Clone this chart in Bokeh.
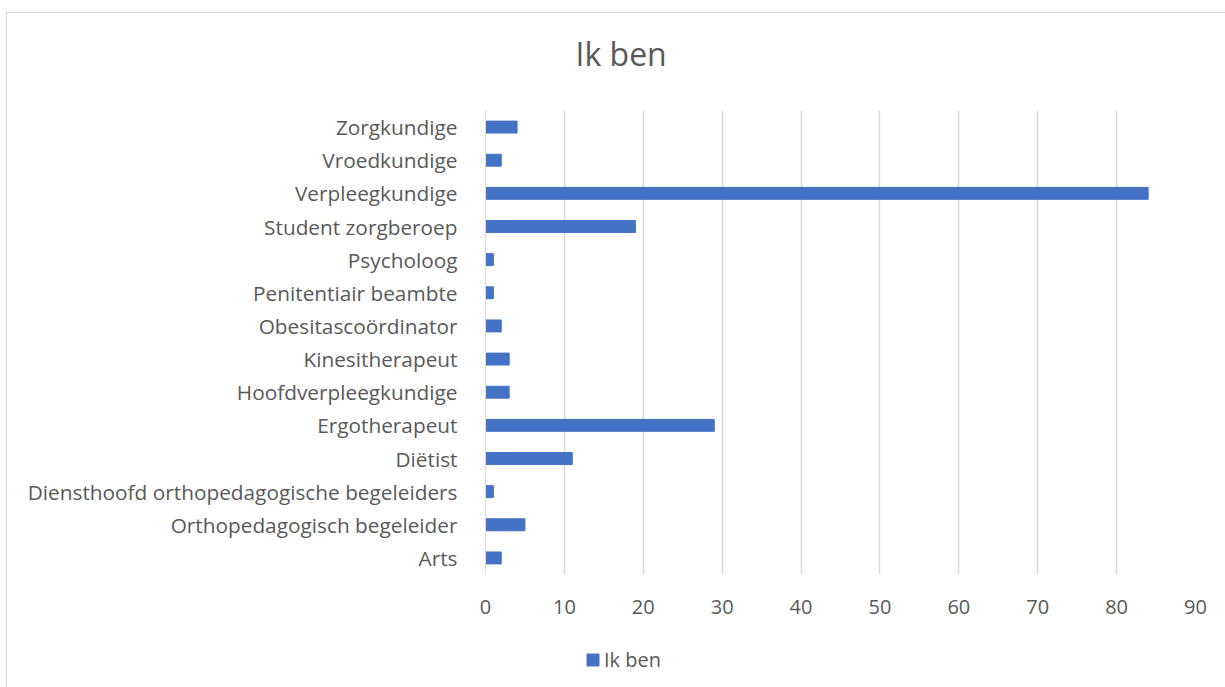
from bokeh.plotting import figure
from bokeh.layouts import column
from bokeh.models import ColumnDataSource, Legend, LegendItem, FixedTicker, Title
from bokeh.embed import file_html
from bokeh.resources import INLINE

categories = ["Arts", "Orthopedagogisch begeleider", "Diensthoofd orthopedagogische begeleiders",
              "Diëtist", "Ergotherapeut", "Hoofdverpleegkundige", "Kinesitherapeut",
              "Obesitascoördinator", "Penitentiair beambte", "Psycholoog",
              "Student zorgberoep", "Verpleegkundige", "Vroedkundige", "Zorgkundige"]
values = [2, 5, 1, 11, 29, 3, 3, 2, 1, 1, 19, 84, 2, 4]
x_ticks = [0, 10, 20, 30, 40, 50, 60, 70, 80, 90]
series_name = "Ik ben"
chart_title = "Ik ben"

FONT = "Open Sans"
GREY = "#595959"
BLUE = "#4472C4"

src = ColumnDataSource(dict(cat=categories, val=values))

p = figure(y_range=categories, x_range=(0, 90), width=1219, height=630,
           output_backend="svg", toolbar_location=None,
           min_border_left=478, min_border_right=31, min_border_top=97, min_border_bottom=69)

r = p.hbar(y="cat", right="val", left=0, height=0.36, source=src, color=BLUE, line_color=BLUE)

# trailing empty line lifts the visible title line away from the plot frame
p.title = Title(text=chart_title + "\n", align="left", text_font=FONT, text_font_size="32px",
                text_color=GREY, text_font_style="normal", offset=90, standoff=-14)
p.title_location = "above"

p.outline_line_color = None
p.background_fill_color = "white"
p.border_fill_color = "white"

p.xaxis.ticker = FixedTicker(ticks=x_ticks)
p.xaxis.axis_line_color = None
p.xaxis.major_tick_line_color = None
p.xaxis.minor_tick_line_color = None
p.xaxis.major_label_text_font = FONT
p.xaxis.major_label_text_font_size = "20px"
p.xaxis.major_label_text_color = GREY
p.xaxis.major_label_standoff = 19

p.yaxis.axis_line_color = "#d9d9d9"
p.yaxis.axis_line_width = 1
p.yaxis.major_tick_line_color = None
p.yaxis.minor_tick_line_color = None
p.yaxis.major_label_text_font = FONT
p.yaxis.major_label_text_font_size = "20.8px"
p.yaxis.major_label_text_color = GREY
p.yaxis.major_label_standoff = 22

p.xgrid.grid_line_color = "#d9d9d9"
p.xgrid.grid_line_width = 1.5
p.ygrid.grid_line_color = None

# legend strip below the chart
p2 = figure(width=1219, height=45, output_backend="svg", toolbar_location=None,
            y_range=categories, x_range=(0, 90),
            x_axis_location=None, y_axis_location=None,
            min_border_left=0, min_border_right=0, min_border_top=0, min_border_bottom=0)
p2.outline_line_color = None
p2.xgrid.grid_line_color = None
p2.ygrid.grid_line_color = None
r2 = p2.hbar(y="cat", right="val", left=0, height=0.36, source=src, color=BLUE, line_color=BLUE)
r2.visible = False

legend = Legend(items=[LegendItem(label=series_name, renderers=[r2])],
                location=(100, 15), orientation="horizontal",
                label_text_font=FONT, label_text_font_size="20px", label_text_color=GREY,
                glyph_width=15, glyph_height=15, label_standoff=4,
                background_fill_alpha=0, border_line_color=None, padding=0, margin=0)
p2.add_layout(legend, "center")

layout = column(p, p2, spacing=0)
layout.margin = (12, 0, 0, 6)
layout.styles = {"border-top": "1px solid #d9d9d9", "border-left": "1px solid #d9d9d9"}

open("out.html", "w").write(file_html(layout, INLINE))
